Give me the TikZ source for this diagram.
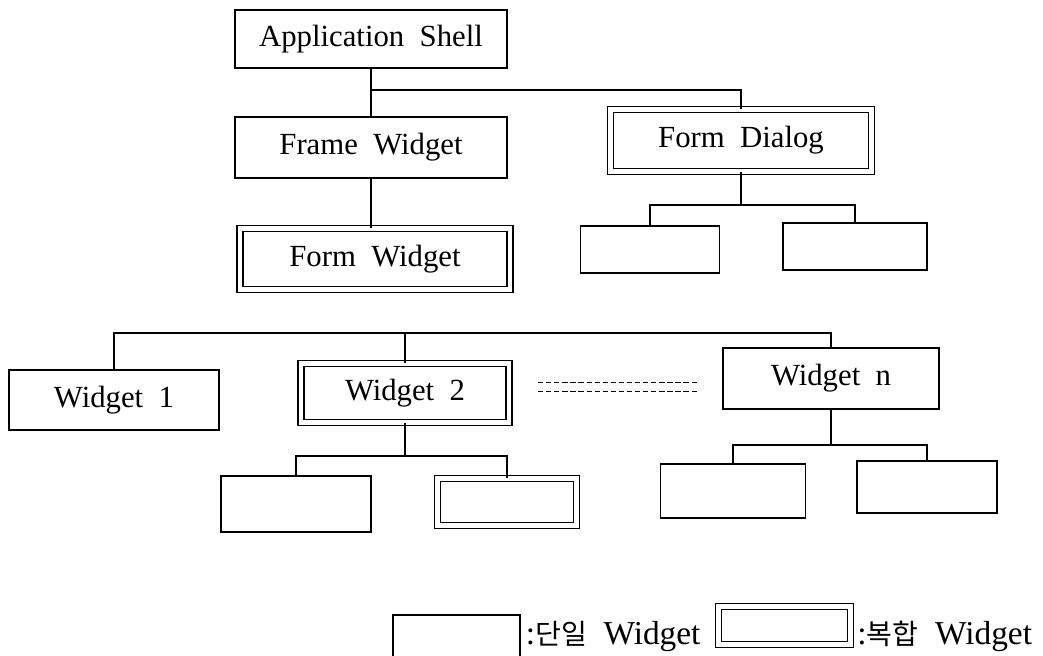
\documentclass[tikz,border=0pt]{standalone}
\usepackage{fontspec}
\setmainfont{Liberation Serif}
\newfontfamily\boxfont{Liberation Serif}[WordSpace=2.0]
\newfontfamily\kr{Noto Sans CJK KR}
\usetikzlibrary{positioning}

\begin{document}
\begin{tikzpicture}[
		x=0.02cm, y=-0.02cm,
		line width=1pt,
		simplebox/.style={draw, rectangle, inner sep=0pt, font=\boxfont\fontsize{17.5}{20}\selectfont},
		compoundbox/.style={simplebox, line width=0.9pt, double, double distance=2.4pt},
		legendtext/.style={inner sep=0pt, font=\boxfont\fontsize{19}{22}\selectfont},
		ellipsis/.style={line width=0.6pt, dash pattern=on 3pt off 1.6pt, double, double distance=4pt}
	]
	\useasboundingbox (0,0) rectangle (1043,655);

	% upper part
	\node[simplebox, minimum width=5.44cm, minimum height=1.16cm] (app) at (371,39) {Application Shell};
	\node[simplebox, minimum width=5.44cm, minimum height=1.22cm] (frame) at (371,147.5) {Frame Widget};
	\node[compoundbox, minimum width=5.40cm, minimum height=1.22cm] (formw) at (375,259) {Form Widget};
	\node[compoundbox, minimum width=5.22cm, minimum height=1.24cm] (formd) at (741,140.5) {Form Dialog};
	\node[simplebox, minimum width=2.78cm, minimum height=0.94cm] (fdl) at (650,249.5) {};
	\node[simplebox, minimum width=2.88cm, minimum height=0.94cm] (fdr) at (855,246.5) {};

	\coordinate (topbus) at (0,90);
	\coordinate (fdbus) at (0,205);
	\draw (frame.north) -- (frame.north |- app.south);
	\draw (frame.north |- topbus) -| (formd.north);
	\draw (frame.south) -- (frame.south |- formw.north);
	\draw (formd.south) -- (formd.south |- fdbus);
	\draw (fdl.north) |- (fdbus -| formd.south) -| (fdr.north);

	% lower part
	\node[simplebox, minimum width=4.2cm, minimum height=1.2cm] (w1) at (114,400) {Widget 1};
	\node[compoundbox, minimum width=4.16cm, minimum height=1.18cm] (w2) at (405,393) {Widget 2};
	\node[simplebox, minimum width=4.32cm, minimum height=1.22cm] (wn) at (831,378.5) {Widget n};
	\node[simplebox, minimum width=3.0cm, minimum height=1.12cm] (w2l) at (296,504) {};
	\node[compoundbox, minimum width=2.78cm, minimum height=0.94cm] (w2r) at (507,502) {};
	\node[simplebox, minimum width=2.9cm, minimum height=1.08cm] (wnl) at (733,491) {};
	\node[simplebox, minimum width=2.8cm, minimum height=1.04cm] (wnr) at (927,487) {};

	\coordinate (mainbus) at (0,333);
	\coordinate (w2bus) at (0,456);
	\coordinate (wnbus) at (0,445);
	\draw (w1.north) |- (mainbus -| wn.north) -- (wn.north);
	\draw (w2.north) -- (w2.north |- mainbus);
	\draw (w2.south) -- (w2.south |- w2bus);
	\draw (w2l.north) |- (w2bus -| w2.south) -| (w2r.north);
	\draw (wn.south) -- (wn.south |- wnbus);
	\draw (wnl.north) |- (wnbus -| wn.south) -| (wnr.north);

	\coordinate (ellA) at (538,387);
	\coordinate (ellB) at (698,387);
	\draw[ellipsis] (ellA) -- (ellB);

	% legend
	\node[simplebox, minimum width=2.54cm, minimum height=1.0cm] (lg1) at (456.5,640) {};
	\node[legendtext, anchor=base west] (lg1t) at (525,644) {:{\kr\fontsize{16}{20}\selectfont 단일} Widget};
	\node[compoundbox, minimum width=2.64cm, minimum height=0.76cm] (lg2) at (784.5,625.5) {};
	\node[legendtext, anchor=base west] (lg2t) at ([xshift=3pt]lg2.east |- lg1t.base) {:{\kr\fontsize{16}{20}\selectfont 복합} Widget};
\end{tikzpicture}
\end{document}
